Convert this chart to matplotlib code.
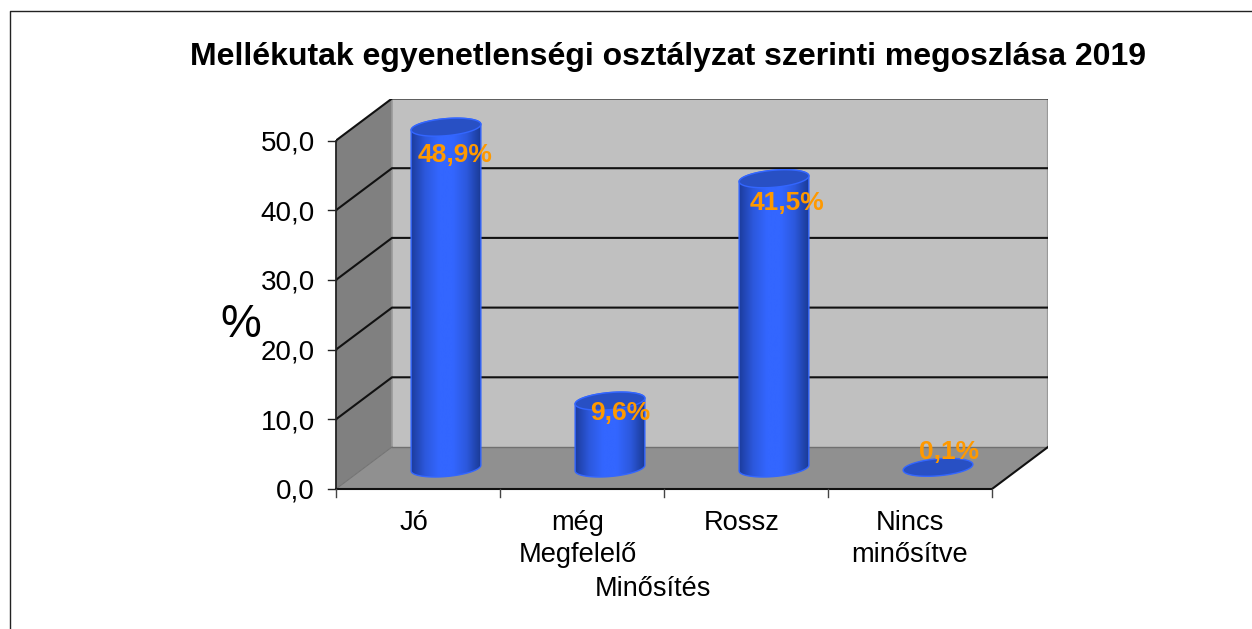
import numpy as np
import matplotlib
matplotlib.use("Agg")
import matplotlib.pyplot as plt
from matplotlib.colors import LinearSegmentedColormap
from matplotlib.lines import Line2D
from matplotlib.patches import Polygon

plt.rcParams['font.family'] = ['Liberation Sans', 'DejaVu Sans']

title = "Mellékutak egyenetlenségi osztályzat szerinti megoszlása 2019"
categories = ["Jó", "még\nMegfelelő", "Rossz", "Nincs\nminősítve"]
values = [48.9, 9.6, 41.5, 0.1]
value_labels = ["48,9%", "9,6%", "41,5%", "0,1%"]
y_ticks = [0, 10, 20, 30, 40, 50]
y_tick_labels = ["0,0", "10,0", "20,0", "30,0", "40,0", "50,0"]
x_label = "Minősítés"
y_label = "%"

W, H = 1252, 629

# pixel geometry of the 3D box
X0, Y0 = 336, 489      # front left corner, value 0
PX_CAT = 164.0         # pixels per category
PX_VAL = 6.97          # pixels per percent
DEPTH_X, DEPTH_Y = 56, 42

# hand placed nudges (pixels) for the text
label_nudge_x = [9, 10, 13, 11]
label_nudge_y = [-28, -12, -24, 15]
cat_nudge_x = [-4, -4, -4, 0]

fig = plt.figure(figsize=(W / 100, H / 100), dpi=100, facecolor="white")
ax_w = 4 * PX_CAT + DEPTH_X
ax_h = 50 * PX_VAL + DEPTH_Y
ax = fig.add_axes([X0 / W, (H - Y0) / H, ax_w / W, ax_h / H])
ax.set_xlim(0, ax_w / PX_CAT)
ax.set_ylim(0, ax_h / PX_VAL)
ax.axis("off")

dx = DEPTH_X / PX_CAT
dy = DEPTH_Y / PX_VAL
n = len(categories)
top = y_ticks[-1]

# walls and floor
ax.add_patch(Polygon([(0, 0), (dx, dy), (dx, top + dy), (0, top)], fc="#808080", ec="none", zorder=1))
ax.add_patch(Polygon([(dx, dy), (n + dx, dy), (n + dx, top + dy), (dx, top + dy)], fc="#C0C0C0", ec="none", zorder=1))
ax.add_patch(Polygon([(0, 0), (n, 0), (n + dx, dy), (dx, dy)], fc="#909090", ec="none", zorder=1))

# edges of the box
ax.plot([dx, dx], [dy, top + dy], color="#9a9a9a", lw=1.2, zorder=2)
ax.plot([n + dx, n + dx], [dy, top + dy], color="#999999", lw=1.6, zorder=2)
ax.plot([dx, n + dx], [dy, dy], color="#707070", lw=1.0, zorder=2)
ax.plot([0, dx], [0, dy], color="#707070", lw=0.7, zorder=2)

for t in y_ticks[1:]:
    ax.plot([0, dx, n + dx], [t, t + dy, t + dy], color="#111111", lw=1.5, zorder=2, solid_joinstyle="miter")
ax.plot([n, n + dx], [0, dy], color="#111111", lw=1.5, zorder=2)

# cylinders
cmap = LinearSegmentedColormap.from_list("cyl", ["#1C3C9C", "#2C58DC", "#3366FF", "#3366FF", "#2C58DC", "#1A3A94"])
grad = np.linspace(0, 1, 256).reshape(1, -1)
radius = 35.0 / PX_CAT
semi_b = 8.5
tilt = np.radians(5)
t = np.linspace(0, 2 * np.pi, 121)


def ellipse(cx, cy, angles):
    # tilted ellipse, worked out in pixels then taken back to data units
    ex = 35.0 * np.cos(angles) * np.cos(tilt) - semi_b * np.sin(angles) * np.sin(tilt)
    ey = 35.0 * np.cos(angles) * np.sin(tilt) + semi_b * np.sin(angles) * np.cos(tilt)
    return cx + ex / PX_CAT, cy + ey / PX_VAL


for i, (val, lab) in enumerate(zip(values, value_labels)):
    cx = i + 0.5 + dx / 2
    base = dy / 2
    cy = val + base
    low = np.linspace(np.pi, 2 * np.pi, 60)
    up = np.linspace(0, np.pi, 60)
    bx, by = ellipse(cx, base, low)
    tx, ty = ellipse(cx, cy, up)
    body = np.column_stack([np.r_[bx, tx], np.r_[by, ty]])
    if val > 1:
        poly = Polygon(body, fc="none", ec="#3366FF", lw=1.0, zorder=4)
        ax.add_patch(poly)
        im = ax.imshow(grad, extent=[cx - radius, cx + radius, 0, cy + 3], aspect="auto", cmap=cmap, zorder=3)
        im.set_clip_path(poly)
    ex, ey = ellipse(cx, cy, t)
    ax.add_patch(Polygon(np.column_stack([ex, ey]), fc="#2850C4", ec="#3366FF", lw=1.0, zorder=5))
    ax.text(cx + label_nudge_x[i] / PX_CAT, cy + label_nudge_y[i] / PX_VAL, lab, color="#FF9900",
            fontsize=19, fontweight="bold", ha="center", va="center", zorder=6)

ax.set_xlim(0, ax_w / PX_CAT)
ax.set_ylim(0, ax_h / PX_VAL)

# front axes and ticks
ax.plot([0, 0], [0, top], color="#222222", lw=1.3, zorder=7, clip_on=False)
ax.plot([0, n], [0, 0], color="#111111", lw=1.5, zorder=7, clip_on=False)
for tk, tl in zip(y_ticks, y_tick_labels):
    ax.plot([-8 / PX_CAT, 0], [tk, tk], color="#222222", lw=1.0, zorder=7, clip_on=False)
    ax.text(-21 / PX_CAT, tk - 3 / PX_VAL, tl, fontsize=20, ha="right", va="center", color="black")
for i in range(n + 1):
    ax.plot([i, i], [0, -8 / PX_VAL], color="#444444", lw=1.0, zorder=7, clip_on=False)
for i, c in enumerate(categories):
    ax.text(i + 0.5 + cat_nudge_x[i] / PX_CAT, -21 / PX_VAL, c, fontsize=19.6, ha="center", va="top",
            color="black", linespacing=1.3)

fig.text(668.5 / W, 1 - 57 / H, title, fontsize=23.05, fontweight="bold", ha="center", va="center", color="black")
fig.text(652.5 / W, 1 - 589 / H, x_label, fontsize=19.5, ha="center", va="center", color="black")
fig.text(241 / W, 1 - 325 / H, y_label, fontsize=33, ha="center", va="center", color="black")

# chart frame, cut off at the right and bottom of the picture
fig.add_artist(Line2D([9.5 / W, 9.5 / W, 1252 / W], [0, 1 - 10.5 / H, 1 - 10.5 / H], color="#222222", lw=1.0))

fig.savefig("out.png", dpi=100, facecolor="white")
